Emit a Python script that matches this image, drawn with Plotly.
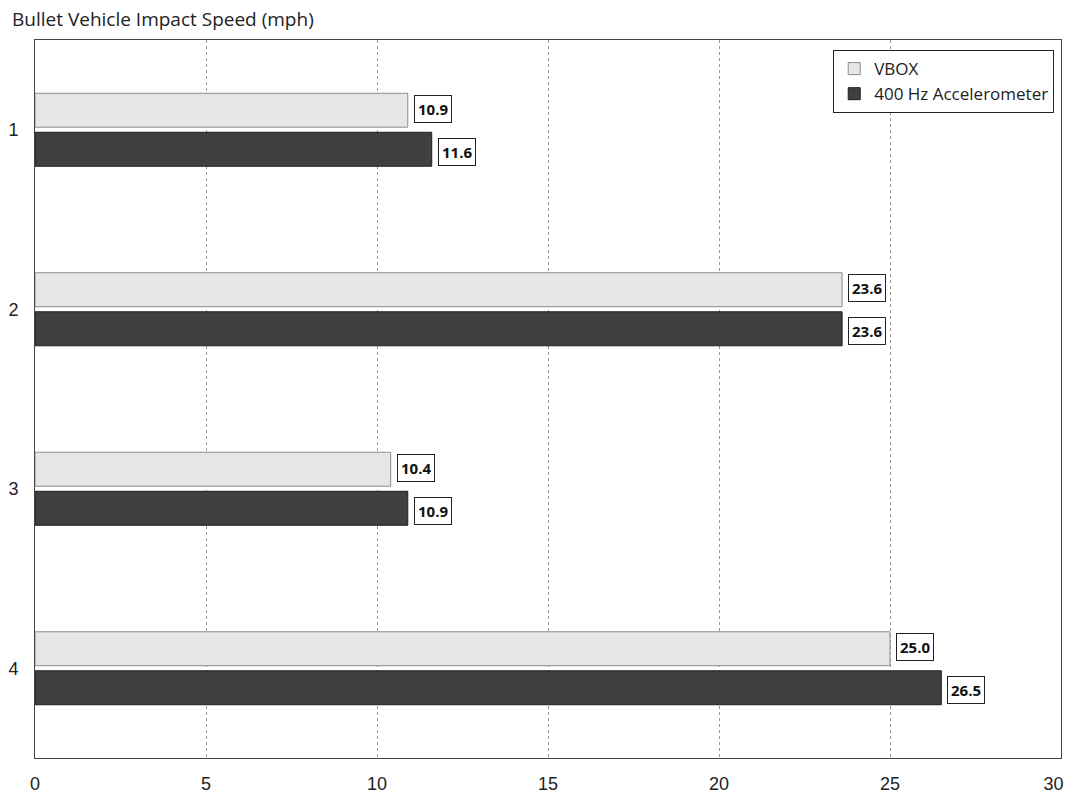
import plotly.graph_objects as go

categories = ["1", "2", "3", "4"]
vbox = [10.9, 23.6, 10.4, 25.0]
accel = [11.6, 23.6, 10.9, 26.5]
x_ticks = [0, 5, 10, 15, 20, 25, 30]
x_tick_labels = ["0", "5", "10", "15", "20", "25", "30\u00a0\u00a0\u00a0"]

fig = go.Figure()
fig.add_trace(go.Bar(
    y=categories, x=vbox, orientation="h", name="VBOX", legendgroup="a",
    marker=dict(color="#e6e6e6", line=dict(color="#8c8c8c", width=1)),
))
fig.add_trace(go.Bar(
    y=categories, x=accel, orientation="h", name="400 Hz Accelerometer", legendgroup="b",
    marker=dict(color="#404040", line=dict(color="#1e1e1e", width=1)),
))

label_font = dict(family="Open Sans", size=15, color="#111")
annotations = []
for i, v in enumerate(vbox):
    annotations.append(dict(x=v, y=i, xref="x", yref="y", text=f"<b>{v:.1f}</b>",
                            showarrow=False, xanchor="left", yanchor="middle",
                            xshift=6, yshift=21, bordercolor="#222", borderwidth=1,
                            borderpad=3, bgcolor="white", font=label_font))
for i, v in enumerate(accel):
    annotations.append(dict(x=v, y=i, xref="x", yref="y", text=f"<b>{v:.1f}</b>",
                            showarrow=False, xanchor="left", yanchor="middle",
                            xshift=6, yshift=-22, bordercolor="#222", borderwidth=1,
                            borderpad=3, bgcolor="white", font=label_font))
annotations.append(dict(x=0, y=1, xref="paper", yref="paper", xshift=-25, yshift=21,
                        text="Bullet Vehicle Impact Speed (mph)", showarrow=False,
                        xanchor="left", yanchor="middle",
                        font=dict(family="Open Sans", size=19, color="#222")))

fig.update_layout(
    width=1073, height=794,
    margin=dict(l=27, r=20, t=32, b=44),
    paper_bgcolor="white", plot_bgcolor="white",
    barmode="group", bargap=0.565, bargroupgap=0.13,
    showlegend=True,
    legend=dict(x=0.778, y=0.986, xanchor="left", yanchor="top",
                bordercolor="#222", borderwidth=1, bgcolor="white",
                font=dict(family="Open Sans", size=17, color="#222"),
                tracegroupgap=16, traceorder="normal"),
    annotations=annotations,
    font=dict(family="Liberation Sans, Arial", size=18, color="#222"),
)
fig.update_xaxes(range=[0, 30], tickvals=x_ticks, ticktext=x_tick_labels,
                 showgrid=True, automargin=False,
                 gridcolor="#999", griddash="dot", gridwidth=1,
                 showline=True, linecolor="#444", linewidth=1, mirror=True,
                 ticks="", ticklabelstandoff=9, zeroline=False,
                 tickfont=dict(family="Liberation Sans, Arial", size=18, color="#222"))
fig.update_yaxes(type="category", autorange="reversed", automargin=False,
                 showline=True, linecolor="#444", linewidth=1,
                 mirror=True, ticks="", ticklabelstandoff=12, showgrid=False,
                 tickfont=dict(family="Liberation Sans, Arial", size=18, color="#222"))

fig.write_html("out.html")
